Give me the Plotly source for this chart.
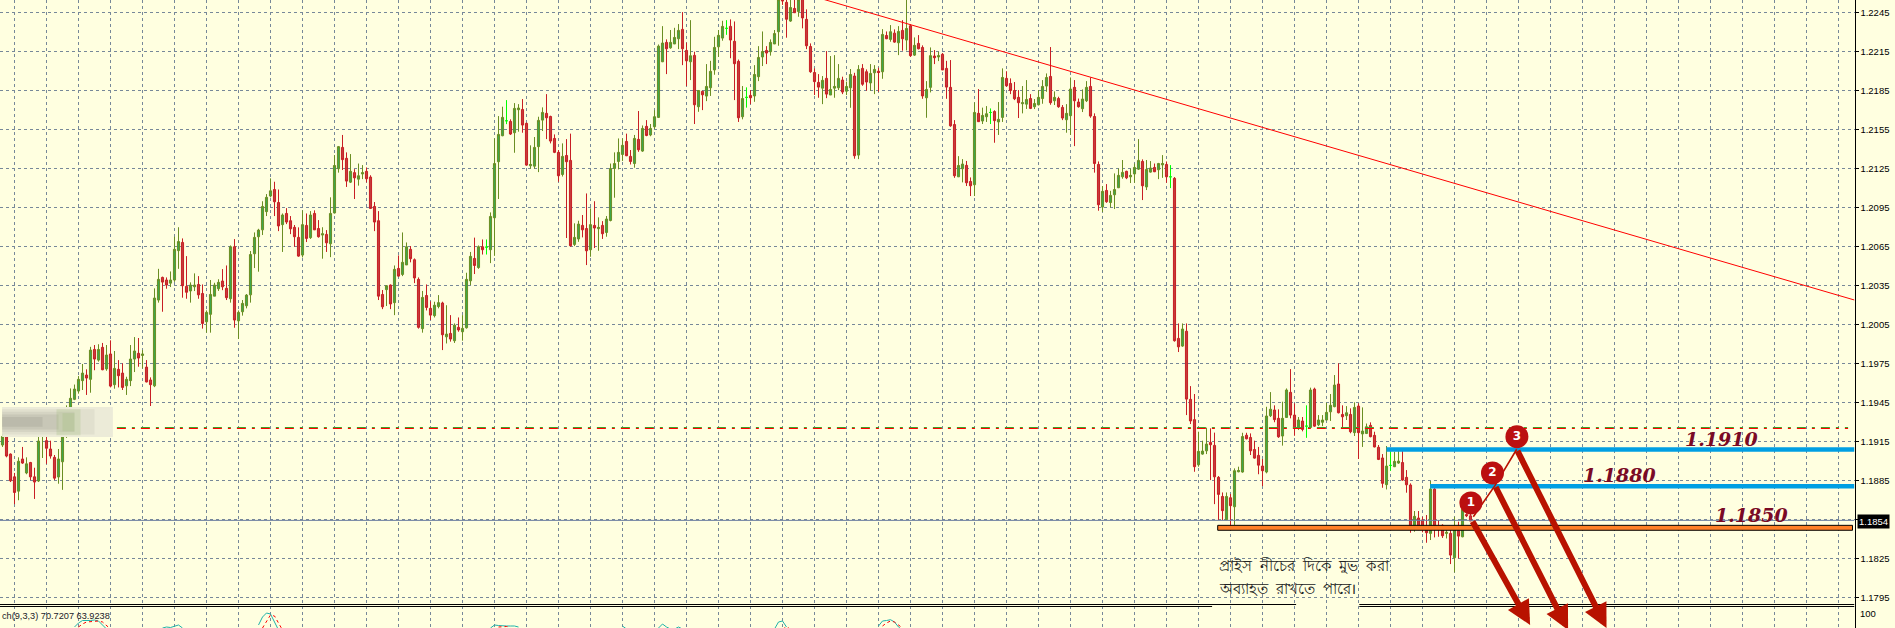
import plotly.graph_objects as go

PIP = 1e-4  # prices below are written in pips: 11912.5 means 1.19125

open_pips = [
11912.5,11919,11905.5,11888,11877,11901.7,11891,11899,11888,11884.8,
11921,11915.8,11909.4,11903,11887.9,11899.6,11919,11936,11947.6,11954,
11962,11966.3,11963,11986,11977.8,11987.6,11971,11982.5,11958.9,11970.7,
11967.8,11958,11962,11978.6,11983,11981.4,11972.4,11962.5,11958,12024,
12041.4,12039.4,12037,12039.4,12062,12068.3,12034.5,12031,12034.2,12036,
12029,12007.3,12013,12027,12032.7,12038.6,12033,12025,12065,12008,
12015,12019.6,12028,12059.6,12072.7,12078,12092,12104,12109,12099,
12082,12090.6,12085,12079.9,12072.2,12058.6,12081.4,12072,12090.6,12079,
12074,12074.5,12067.3,12091,12125,12141.4,12133,12114.7,12122,12117,
12121,12123,12118.6,12096,12085,12028.3,12032,12035.5,12022,12048.3,
12043.7,12051,12063,12055,12039.9,12002,12027.5,12017.6,12012,12019,
12021.7,11995.7,11998.3,11992.7,12003,11999.6,12002.7,12038.8,12056,12049,
12065,12064.7,12062.7,12087.3,12130.4,12150.4,12161.9,12161.4,12152.7,12170.4,
12170.6,12159.9,12127.3,12127,12142,12162.4,12167.6,12165.2,12148.3,12137.6,
12120.6,12135.2,12131.4,12066.8,12071,12081.4,12079,12062.7,12081.4,12078.9,
12081.4,12076,12085.2,12125.2,12130.6,12136,12146,12134.5,12129,12147.6,
12138.6,12157.6,12151,12157.3,12164.5,12207.3,12222.2,12218,12221,12225,
12232.2,12216,12207.3,12212.2,12172.7,12184.5,12180.9,12187.3,12201,12218.8,
12225.5,12233,12234.5,12223,12207.6,12165,12179.9,12181.4,12181,12195.8,
12211,12216,12215,12221,12230.4,12256,12253,12238.6,12248.3,12246,
12256,12239.9,12219,12199,12191.4,12187,12194.5,12181.7,12187,12187.3,
12193.2,12184.7,12187.3,12196.3,12135.5,12202.2,12199.6,12191,12198.8,12200,
12199.6,12227.5,12224.5,12229.3,12221.9,12231.4,12224,12235,12212.4,12221.4,
12218.3,12179.6,12187.6,12211.7,12211,12213,12202.2,12187.6,12159,12118.8,
12125,12127.6,12115.2,12112.7,12167.6,12161.7,12165,12168.3,12169,12161,
12164.5,12194.5,12190.6,12185.2,12179.9,12175,12174.7,12179,12172.7,12174.2,
12179,12188.6,12196,12177.3,12179,12172.2,12162.7,12165.8,12187.6,12176.3,
12171.2,12177.3,12188.3,12165.2,12128.3,12095.5,12108.3,12099,12105,12110.4,
12118.8,12123,12118.8,12121,12124.7,12130.6,12111,12122.4,12126,12124.2,
12128,12128.3,12118.8,12117.6,11994.5,11988.6,12000,11947.6,11932,11897.3,
11905.5,11908,11914.5,11912.2,11887.6,11872.9,11855,11871.9,11865,11891.9,
11891.7,11920,11918.3,11909,11904.5,11896.3,11891.7,11935,11939.4,11933,
11919.4,11933.7,11953,11935.5,11925.5,11930.9,11927,11926,11955.5,11928,
11930,11931.7,11938,11942,11959.4,11936,11935,11936,11922,11942.4,
11921,11921.4,11927.6,11919.9,11910.7,11902.5,11882,11896.8,11895.8,11898.6,
11899,11887.6,11881.7,11849.6,11856.3,11854.8,11848.6,11844.5,11878.6,11849.6,
11850.7,11844.5,11844.5,11825.8,11846.6,11841.9,11859,11858,
]

high_pips = [
11921,11921,11906,11891,11903,11911,11903,11899.5,11895,11919,
11932,11919,11915.8,11904.8,11909.4,11925,11943,11956,11959,11965.5,
11974.8,11970.7,11988,11989.4,11990,11991,11989.4,11993,11984.8,11977.8,
11975.3,11965,11989.4,11995.5,11994.8,11985.5,11977.8,11964.5,12033,12048,
12042,12041.4,12046,12072.7,12080,12071.4,12057.8,12037.6,12044.5,12042.4,
12036,12016,12039.4,12037.3,12040,12047.8,12050.6,12066,12070.9,12016,
12024,12028.6,12061.7,12076,12078.8,12100,12105.5,12117.6,12115,12109,
12090.6,12094.7,12088.6,12081.7,12079.9,12093,12090.6,12092.4,12093,12085.5,
12080,12077.8,12103,12135.5,12142.5,12151,12137.6,12136.3,12124.7,12129,
12127.8,12126,12120,12099.4,12092.4,12031.7,12035.5,12036,12050.6,12058.3,
12076,12068.3,12065.5,12056,12041.4,12031,12036,12023,12022.7,12027.8,
12022.7,12020,12012.4,12006,12010.6,12012.4,12045,12061,12072,12066,
12070.6,12070.6,12091.4,12148.3,12165.5,12172.7,12177.8,12163,12175.5,12174.7,
12178.6,12160.5,12143,12149.4,12165,12172.2,12182.4,12165.8,12151.4,12139.4,
12144.5,12147.8,12152,12083,12085,12089.4,12106,12094.5,12100,12087.6,
12084.7,12088.6,12129,12137.6,12148.3,12148.3,12152,12139.4,12151,12169.4,
12158.3,12162.4,12159.4,12170,12220.6,12234.7,12224.5,12231.7,12233.4,12236.3,
12245.5,12222,12239.3,12215,12185.5,12185,12205.5,12208,12226.5,12231.7,
12238.8,12239.3,12239.9,12238.3,12209,12188.6,12187.6,12185.5,12204.7,12219.3,
12230.6,12219.3,12224.5,12231.7,12258,12258,12258,12255,12255,12257,
12258,12247.6,12221.4,12202.2,12197.8,12196.3,12215.5,12211.7,12212.4,12205.5,
12195.8,12192,12201.7,12198.8,12204.7,12205.5,12201.4,12205.5,12204.7,12202.7,
12232.4,12230.6,12235.5,12232.2,12234.7,12239.3,12256,12236,12226,12227.8,
12219.9,12192.4,12218.3,12216.3,12215,12214,12208,12208.6,12162.4,12134.7,
12132.4,12131,12118.3,12176,12186.3,12172,12173.2,12171.4,12170,12176.3,
12202.2,12200,12194.5,12191.7,12185.5,12188.6,12193.2,12182.4,12178.6,12185.5,
12193.2,12198.3,12218.6,12184.5,12180.4,12174,12174.7,12195.2,12193.2,12179,
12186,12192.4,12195.2,12167.6,12130.6,12111.7,12113.2,12108,12121.4,12125.2,
12131.7,12123.5,12125,12129,12147.8,12132.2,12131.7,12130.9,12129,12129.5,
12135.5,12130.6,12127.8,12118.6,12006,12006,12006,11957.8,11951.7,11922.7,
11915.8,11925.8,11925.3,11922,11888.6,11876,11876,11874.8,11894.5,11895.8,
11921.9,11921.9,11921.4,11915.8,11911,11901.7,11941.9,11953.2,11943,11939.9,
11945.8,11956,11970.9,11944.5,11934,11934,11943,11956.6,11956.6,11935.5,
11935.5,11945,11951.7,11966.3,11975.3,11943,11942.4,11940.7,11945.3,11944.5,
11941.4,11929,11929.9,11922.7,11912.5,11905.5,11911.7,11907.3,11907.3,11909,
11908,11893.2,11883,11861.7,11861.7,11857.3,11858.6,11884.8,11881,11854.8,
11851.5,11847,11848.3,11857.3,11853.5,11870,11860,11860,
]

low_pips = [
11911,11903,11884,11867,11870,11898,11890,11885.5,11871,11884,
11902.5,11898,11902,11885.5,11882.7,11878,11918,11932,11947,11952,
11954.8,11951,11952.7,11970,11976.6,11970,11969.6,11956.8,11955.8,11956.8,
11954.8,11951,11957.8,11968.6,11972.7,11971.4,11960.7,11942.5,11957,12022,
12015,12032.7,12034,12038,12048,12025.8,12025,12022,12030.9,12025,
12002,11998.9,11998.9,12027,12031,12031.6,12024,12022,12002.7,11994,
12012,12017.6,12022,12048.6,12045.8,12074,12088.6,12103,12088.6,12077,
12061,12082.4,12074.7,12065,12057.3,12056.8,12068.6,12071,12077.8,12072,
12055.8,12061,12057,12090.6,12122,12124,12111,12114,12101.7,12112,
12117,12114.5,12094,12077,12024,12017,12019.4,12017,12012.4,12042,
12042.4,12051,12053,12037,12002,11998.9,12016,12008.6,12010.6,12017.6,
11985.5,11990.6,11992,11991,11999.6,11992.7,12002,12035.5,12044,12048,
12059,12059,12052.4,12058,12101.7,12150,12159.3,12151,12137.3,12153.5,
12152.7,12127.3,12125,12125,12122.4,12154,12147.8,12144.5,12137,12115,
12119,12071.7,12065,12065.5,12068.8,12072.2,12050.9,12057.3,12064,12061.9,
12071,12072.7,12084.5,12102.7,12124.5,12131,12134.7,12128.3,12125.8,12138,
12138,12150,12150,12155.5,12164,12207,12197.8,12217.3,12220.9,12217,
12204.7,12188.6,12193.2,12159.4,12168.8,12170.1,12177,12181,12197.3,12211,
12223.5,12228,12210,12177.8,12161,12163,12172,12174.7,12176.5,12192.4,
12204,12205.5,12212,12220.9,12219.6,12251,12225.8,12238,12245,12241.9,
12233,12217,12198.8,12181.7,12179.6,12174.7,12179.3,12181.7,12179.6,12185.5,
12182.4,12181.7,12171.9,12132.7,12132.4,12188.8,12185,12185,12182.4,12184.2,
12194.2,12224.7,12222.7,12221.9,12212.4,12215.8,12216,12211,12211.7,12216.8,
12178.8,12164.2,12183.7,12205.5,12207.8,12200.9,12178.8,12157.3,12118,12118.6,
12114.5,12111.7,12104,12104,12161,12159.4,12161,12159.4,12145,12151,
12161,12188,12182.4,12177.8,12164,12167.6,12171,12170.9,12170.9,12173.7,
12175,12184.2,12174.2,12174,12171.9,12162.4,12152.7,12151,12142.4,12172,
12168.6,12176.3,12164.2,12122,12092.7,12091.7,12098.8,12095.2,12094,12110.1,
12117.3,12117,12114,12114.2,12124,12100.9,12108.6,12122,12122.4,12117,
12118,12114.2,12110.1,11992,11984,11988,11935.5,11928.6,11891.9,11895.8,
11905,11905.5,11885.5,11867,11854.8,11854.8,11854.8,11847.8,11851,11891.5,
11891.2,11916.8,11904.8,11902,11890,11880.9,11890.7,11934,11930,11918,
11912,11933.5,11933,11919.6,11924,11923,11918,11925.5,11926.5,11927,
11927,11931.5,11931,11941.5,11936.8,11925.3,11931.7,11921.5,11919.4,11901.7,
11911,11920.9,11918.4,11910.7,11900.9,11879.6,11878.3,11892.7,11895.5,11898,
11885,11875.8,11845,11845.8,11847,11845.3,11837.3,11839.4,11841.4,11841.9,
11841,11840.6,11820.9,11814.5,11825.3,11841.5,11857,11854,
]

close_pips = [
11919,11904,11885,11876,11900,11898.6,11898,11888,11884,11915.5,
11929,11910,11904,11887,11901.7,11918.6,11936,11948.4,11955.5,11963,
11967.8,11964,11985.5,11978.6,11986,11970.4,11981.7,11957.8,11971.4,11965.8,
11956.8,11963,11978.6,11984.8,11979.4,11982.5,11961,11958.9,12025.5,12039.9,
12037.8,12035.5,12039.4,12063,12069,12035,12030,12035.5,12035.5,12028,
12006,12014.5,12028.3,12035.5,12037.6,12034.2,12025.8,12065,12008.6,12014.5,
12021.4,12027.8,12059,12072.2,12077.8,12096,12103,12108,12099.6,12081,
12089.4,12084,12078.8,12072.7,12057.8,12082,12071.4,12089.4,12078,12072.7,
12075,12068,12090.6,12127.5,12142,12132,12115.5,12123,12118,12119.6,
12122,12117.3,12094.5,12084,12027,12018.8,12035,12021,12047.6,12042.4,
12053,12065,12055.8,12041,12003,12026,12018.3,12012.4,12020,12022,
11997.3,11997.8,11994,12004.7,12001,12002.2,12039.9,12057.6,12050.6,12065,
12062.7,12064.7,12088.3,12129,12151.4,12164.5,12161.9,12151.7,12171.4,12171.7,
12158.6,12127.8,12128.3,12141.4,12162.2,12168.3,12164.2,12146.3,12137.6,12119.6,
12134.5,12130.4,12065.8,12072.2,12082.4,12078,12061.9,12082,12079.4,12079.9,
12075,12086.3,12125.2,12129,12137.6,12143,12135,12130.6,12148.3,12139.6,
12156,12150.6,12156,12165,12219.3,12221.7,12217.3,12222.2,12226,12231.4,
12217.3,12208,12211.9,12174.2,12185.2,12181.9,12188.3,12199.9,12218.3,12227.6,
12234.5,12233,12224,12205.8,12164.2,12179,12179.9,12179.6,12197.5,12210.6,
12215.2,12214,12222.2,12229,12255,12254,12240,12249,12245,12255,
12241,12219.6,12199.6,12192,12187.8,12193,12182.4,12186,12188.3,12194.5,
12184,12188.3,12197.5,12135,12201.4,12190,12191.7,12198.3,12201.4,12199,
12228.3,12225,12230.4,12222.4,12230.6,12225,12232.9,12212,12219.9,12217.3,
12181,12186,12212,12210.4,12212,12201,12187.8,12158,12119.6,12127.5,
12128.6,12114.2,12111.9,12168.3,12161.2,12166,12167.3,12168.3,12162,12163,
12195.2,12188.8,12185.2,12178.8,12175.8,12175.8,12178.3,12171.4,12175.2,12179.9,
12188.3,12195.2,12175.8,12179.9,12172.7,12164,12167.6,12186.3,12177.3,12172.7,
12178.6,12187.6,12165.5,12129,12097.3,12107.6,12099.6,12104.5,12109,12119.9,
12122.2,12118,12119.9,12126,12131.4,12111.9,12124.5,12125.5,12122.7,12129,
12129,12118.8,12118.8,11992.7,11988,12001.7,11947.8,11931,11895.8,11907.6,
11907.8,11913.2,11912.7,11888,11874.5,11862,11872.9,11865.8,11892.7,11892.9,
11919,11917.3,11908,11902.4,11897,11892.7,11934.8,11940,11932,11918.8,
11933,11954.8,11935.5,11925.3,11931.7,11924.5,11927,11954.8,11927,11931.7,
11931.7,11937.6,11943,11958.6,11937.3,11934.2,11937.3,11922.7,11941.4,11922,
11923.2,11926.5,11918.9,11911,11901.4,11883,11896.3,11896.8,11899.9,11900.1,
11885.5,11881.9,11848.9,11857.6,11848.9,11849,11845,11878.6,11849.6,11848.4,
11842.7,11845.3,11827.8,11847.6,11842.4,11863,11858,11854,
]

# price axis
tick_values = [1.2245, 1.2215, 1.2185, 1.2155, 1.2125, 1.2095, 1.2065, 1.2035,
               1.2005, 1.1975, 1.1945, 1.1915, 1.1885, 1.1855, 1.1825, 1.1795]
tick_labels = ["1.2245", "1.2215", "1.2185", "1.2155", "1.2125", "1.2095", "1.2065", "1.2035",
               "1.2005", "1.1975", "1.1945", "1.1915", "1.1885", "", "1.1825", "1.1795"]
current_price = 1.18545
price_tag = "1.1854"
grid_bars = list(range(3, 464, 8))

# levels drawn on the chart
level_high_red = 1.192518
level_high_green = 1.192595
level_labels = ["1.1910", "1.1880", "1.1850"]

# stochastic(9,3,3) pieces that reach into the visible strip
stoch_main_bars = [18,19,20,21,22,23,24,25,26,None,40,41,42,43,44,45,None,64,65,66,67,68,69,None,
                   122,123,124,125,126,127,128,129,None,155,156,None,164,165,166,167,None,168,169,170,None,
                   193,194,195,196,None,219,220,221,222,223,224,225]
stoch_main_vals = [81,85,87.5,87.3,87.5,88,87,83,79,None,80,81,80.5,82,83,80,None,83,91,95,94,86,78,None,
                   80,83,82.5,82,82,82,82,81,None,82,79,None,80,84,81,79,None,79,81,79,None,
                   79,86,87,81,None,82,87,87.5,88.3,86,81,78]
stoch_sig_bars = [19,20,21,22,23,24,25,26,27,None,65,66,67,68,69,70,None,124,125,126,127,None,
                  195,196,197,None,220,221,222,223,224,225]
stoch_sig_vals = [81,84,86,86.5,87,87,86,82,79,None,80,87,93,92,85,78,None,81,81.5,81.5,81,None,
                  79,81,79,None,82,85,87,86,83,80]

RED = "#c81e24"
RED_FILL = "#c43c3c"
GREEN = "#6b8e23"
GREEN_FILL = "#3ea64a"
ARROW = "#b81200"
BG = "#ffffe0"
GRID = "#778899"
GRID_DASH = "3px,3px"

o = [v * PIP for v in open_pips]
h = [v * PIP for v in high_pips]
l = [v * PIP for v in low_pips]
c = [v * PIP for v in close_pips]
bars = list(range(len(o)))
doji = [i for i in bars if open_pips[i] == close_pips[i]]
body = [i for i in bars if open_pips[i] != close_pips[i]]

fig = go.Figure()
fig.add_trace(go.Candlestick(
    x=body, open=[o[i] for i in body], high=[h[i] for i in body],
    low=[l[i] for i in body], close=[c[i] for i in body],
    increasing=dict(line=dict(color=GREEN, width=1), fillcolor=GREEN_FILL),
    decreasing=dict(line=dict(color=RED, width=1), fillcolor=RED_FILL),
    whiskerwidth=0, hoverinfo="skip", showlegend=False))
fig.add_trace(go.Candlestick(
    x=doji, open=[o[i] for i in doji], high=[h[i] for i in doji],
    low=[l[i] for i in doji], close=[c[i] for i in doji],
    increasing=dict(line=dict(color="#00ff00", width=1), fillcolor="#00ff00"),
    decreasing=dict(line=dict(color="#00ff00", width=1), fillcolor="#00ff00"),
    whiskerwidth=0, hoverinfo="skip", showlegend=False))


def line(xs, ys, color, width=1, dash=None, yaxis="y"):
    fig.add_trace(go.Scatter(x=xs, y=ys, mode="lines", yaxis=yaxis, hoverinfo="skip", showlegend=False,
                             line=dict(color=color, width=width, dash=dash)))


# current price, resistance dash-dot, trend line
line([-0.625, 463], [current_price, current_price], "#6d7fa0", 1)
line([28.6, 461.4], [level_high_green, level_high_green], "#3ea32a", 1, "9px,6px,3px,6px")
line([28.6, 461.4], [level_high_red, level_high_red], "#ff0000", 1, "9px,6px,3px,6px")
line([203.5, 463], [1.22569, 1.20240], "#ff0000", 1)

# blue support/resistance bars
line([346, 463], [1.19091, 1.19091], "#009fe3", 4.5)
line([356.9, 463], [1.18807, 1.18807], "#009fe3", 4.5)

# stochastic
line(stoch_main_bars, stoch_main_vals, "#20b2aa", 1, None, "y2")
line(stoch_sig_bars, stoch_sig_vals, "#ff0000", 1, "3px,3px", "y2")

# thin zigzag joining the numbered points
line([367.7, 373.1, 378.55], [1.18573, 1.18812, 1.19092], ARROW, 1.6)

fig.add_trace(go.Scatter(
    x=[367.1, 372.5, 378.6], y=[1.18679, 1.18910, 1.19189], mode="markers+text",
    marker=dict(size=23, color="#bb1010", line=dict(width=0)),
    text=["1", "2", "3"], textposition="middle center",
    textfont=dict(color="white", size=12, family="DejaVu Sans", weight="bold"),
    hoverinfo="skip", showlegend=False))

shapes = [
    # mask behind the Bengali note
    dict(type="rect", layer="below", xref="x", yref="y", x0=299.8, x1=358.6, y0=1.17717, y1=1.18342,
         fillcolor=BG, line=dict(width=0)),
    dict(type="rect", layer="below", xref="x", yref="y", x0=302.4, x1=367, y0=1.17717, y1=1.18062,
         fillcolor=BG, line=dict(width=0)),
    # orange support band
    dict(type="rect", xref="x", yref="y", x0=303.8, x1=462.5, y0=1.18469, y1=1.18507,
         fillcolor="#ff7f27", line=dict(color="black", width=1)),
    # pane divider
    dict(type="line", xref="x", yref="y", x0=-0.625, x1=323.4, y0=1.17898, y1=1.17898,
         line=dict(color="black", width=1)),
    dict(type="line", xref="x", yref="y", x0=339.2, x1=463, y0=1.17898, y1=1.17898,
         line=dict(color="black", width=1)),
    dict(type="line", xref="x", yref="y", x0=-0.625, x1=302.4, y0=1.178827, y1=1.178827,
         line=dict(color="black", width=1)),
    dict(type="line", xref="x", yref="y", x0=339.2, x1=463, y0=1.178827, y1=1.178827,
         line=dict(color="black", width=1)),
    # blurred patch over the left of the chart
    dict(type="rect", xref="x", yref="y", x0=-0.1, x1=27.6, y0=1.19186, y1=1.19417,
         fillcolor="#ecebd8", line=dict(width=0)),
    dict(type="rect", xref="x", yref="y", x0=-0.1, x1=23, y0=1.19205, y1=1.19400,
         fillcolor="rgba(130,128,115,0.10)", line=dict(width=0)),
    dict(type="rect", xref="x", yref="y", x0=-0.1, x1=18, y0=1.19225, y1=1.19380,
         fillcolor="rgba(130,128,115,0.12)", line=dict(width=0)),
    dict(type="rect", xref="x", yref="y", x0=-0.1, x1=14, y0=1.19245, y1=1.19360,
         fillcolor="rgba(130,128,115,0.15)", line=dict(width=0)),
    dict(type="rect", xref="x", yref="y", x0=-0.1, x1=10, y0=1.19265, y1=1.19340,
         fillcolor="rgba(130,128,115,0.18)", line=dict(width=0)),
    dict(type="rect", xref="x", yref="y", x0=13.5, x1=19.5, y0=1.19200, y1=1.19400,
         fillcolor="rgba(150,180,110,0.22)", line=dict(width=0)),
    dict(type="rect", xref="x", yref="y", x0=15, x1=18, y0=1.19230, y1=1.19370,
         fillcolor="rgba(150,180,110,0.22)", line=dict(width=0)),
]

ARROW_STYLE = dict(xref="x", yref="y", axref="x", ayref="y", text="", showarrow=True,
                   arrowhead=2, arrowsize=0.8, arrowwidth=6, arrowcolor=ARROW)
annotations = [
    dict(x=381.9, y=1.17740, ax=367.3, ay=1.18548, **ARROW_STYLE),
    dict(x=391.4, y=1.17702, ax=373.1, ay=1.18812, **ARROW_STYLE),
    dict(x=401.0, y=1.17717, ax=378.55, ay=1.19092, **ARROW_STYLE),
]
for txt, bx, pr in zip(level_labels, [429.8, 404.3, 437.3], [1.19169, 1.18894, 1.18586]):
    annotations.append(dict(x=bx, y=pr, xref="x", yref="y", text=txt, showarrow=False,
                            xanchor="center", yanchor="middle",
                            font=dict(family="DejaVu Serif", size=19, color="#7a0a25",
                                      style="italic", weight="bold")))
for txt, pr in zip(["প্রাইস  নীচের  দিকে  মুভ  করা", "অব্যাহত  রাখতে  পারে।"], [1.18202, 1.18025]):
    annotations.append(dict(x=303.6, y=pr, xref="x", yref="y", xanchor="left", yanchor="middle",
                            showarrow=False, text=txt,
                            font=dict(family="Noto Sans, DejaVu Sans", size=15, color="#222222")))
annotations += [
    dict(x=-0.6, y=1.17808, xref="x", yref="y", xanchor="left", yanchor="middle", showarrow=False,
         text="ch(9,3,3) 70.7207 63.9238",
         font=dict(family="Liberation Sans", size=9.2, color="#1a1a2a")),
    dict(x=1873.7 / 1895, y=1.1854, xref="paper", yref="y", xanchor="center", yanchor="middle",
         showarrow=False, text=price_tag, bgcolor="black", borderpad=1,
         font=dict(family="Liberation Sans", size=9.5, color="white")),
    dict(x=1858 / 1895, y=1.17830, xref="paper", yref="y", xanchor="left", yanchor="middle",
         showarrow=False, text="100",
         font=dict(family="Liberation Sans", size=9.5, color="black")),
]

fig.update_layout(
    width=1895, height=628, margin=dict(l=0, r=0, t=0, b=0, pad=0, autoexpand=False),
    paper_bgcolor=BG, plot_bgcolor=BG, showlegend=False, boxgap=0.25,
    shapes=shapes, annotations=annotations,
    xaxis=dict(domain=[0, 1854.5 / 1895], range=[-0.625, 463], tickmode="array", tickvals=grid_bars,
               showticklabels=False, ticks="", showgrid=True, gridcolor=GRID, griddash=GRID_DASH,
               gridwidth=1, zeroline=False, showline=False, rangeslider=dict(visible=False), fixedrange=True),
    yaxis=dict(range=[1.22548 - 628 / 13000, 1.22548], side="right", tickmode="array",
               tickvals=tick_values, ticktext=tick_labels, showgrid=True, gridcolor=GRID,
               griddash=GRID_DASH, gridwidth=1, zeroline=False, showline=True, linecolor="black",
               linewidth=1, ticks="outside", ticklen=3, tickcolor="black", tickwidth=1,
               tickfont=dict(family="Liberation Sans", size=9.5, color="black"), fixedrange=True),
    yaxis2=dict(overlaying="y", range=[80, 708], visible=False, fixedrange=True),
)

fig.write_html("out.html", post_script="document.body.style.margin='0';document.body.style.overflow='hidden';",
               config=dict(displayModeBar=False))
